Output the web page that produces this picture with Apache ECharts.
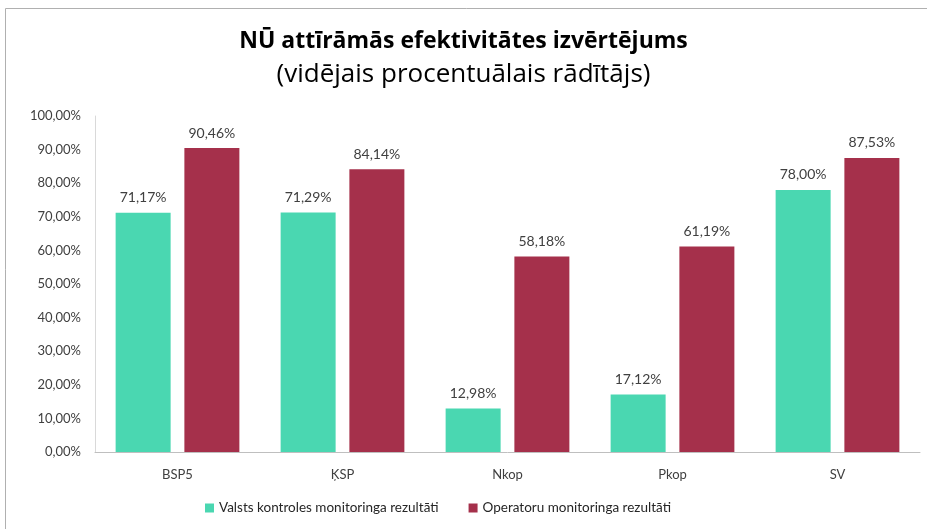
<html lang="lv">
<head>
    <meta charset="UTF-8">
    <title>NŪ attīrāmās efektivitātes izvērtējums</title>
    <script src="https://cdn.jsdelivr.net/npm/echarts@6/dist/echarts.min.js"></script>
</head>
<style>
    html, body { margin: 0; padding: 0; background: #fff; }
    #container { width: 927px; height: 529px; }
</style>
<body>
<div id="container"></div>
<script>
    // dati
    var categories = ['BSP5', 'ĶSP', 'Nkop', 'Pkop', 'SV'];
    var valstsKontrole = [71.17, 71.29, 12.98, 17.12, 78.00];
    var operatori = [90.46, 84.14, 58.18, 61.19, 87.53];
    var seriesNames = ['Valsts kontroles monitoringa rezultāti', 'Operatoru monitoringa rezultāti'];

    var fontFam = 'Lato, "Open Sans", sans-serif';
    var titleFam = '"Open Sans", Lato, sans-serif';

    function pct(v)
    {
        return v.toFixed(2).replace('.', ',') + '%';
    }

    var chart = echarts.init(document.getElementById('container'));

    var option = {
        animation: false,
        textStyle: { fontFamily: fontFam },
        title: {
            text: 'NŪ attīrāmās efektivitātes izvērtējums',
            subtext: '(vidējais procentuālais rādītājs)',
            left: 'center',
            top: 25,
            itemGap: 9,
            textStyle: { fontFamily: titleFam, fontSize: 23, fontWeight: 'bold', color: '#000' },
            subtextStyle: { fontFamily: titleFam, fontSize: 26, color: '#000' }
        },
        legend: {
            bottom: 9,
            left: 200,
            itemWidth: 9,
            itemHeight: 9,
            itemGap: 30,
            icon: 'rect',
            textStyle: { fontFamily: fontFam, fontSize: 13.5, color: '#262626' },
            data: seriesNames
        },
        grid: { left: 95, right: 7, top: 116, bottom: 77 },
        xAxis: {
            type: 'category',
            data: categories,
            axisLine: { lineStyle: { color: '#bfbfbf' } },
            axisTick: { show: false },
            axisLabel: { fontFamily: fontFam, fontSize: 13, color: '#404040', margin: 16 }
        },
        yAxis: {
            type: 'value',
            min: 0,
            max: 100,
            interval: 10,
            splitLine: { show: false },
            axisLine: { show: true, lineStyle: { color: '#d9d9d9' } },
            axisTick: { show: false },
            axisLabel: {
                fontFamily: fontFam, fontSize: 13, color: '#404040', margin: 14,
                formatter: function (v) { return pct(v); }
            }
        },
        graphic: [{
            type: 'rect',
            shape: { x: 5.5, y: 8.5, width: 1000, height: 1000 },
            style: { fill: 'none', stroke: '#b0b0b0', lineWidth: 1 },
            silent: true
        }],
        series: [
            {
                name: seriesNames[0],
                type: 'bar',
                data: valstsKontrole,
                barWidth: 55,
                barGap: '25%',
                itemStyle: { color: '#4AD7B1' },
                label: {
                    show: true, position: 'top', distance: 8,
                    fontFamily: fontFam, fontSize: 14, color: '#404040',
                    formatter: function (p) { return pct(p.value); }
                }
            },
            {
                name: seriesNames[1],
                type: 'bar',
                data: operatori,
                barWidth: 55,
                itemStyle: { color: '#A5304B' },
                label: {
                    show: true, position: 'top', distance: 8,
                    fontFamily: fontFam, fontSize: 14, color: '#404040',
                    formatter: function (p) { return pct(p.value); }
                }
            }
        ]
    };

    chart.setOption(option);
</script>
</body>
</html>
